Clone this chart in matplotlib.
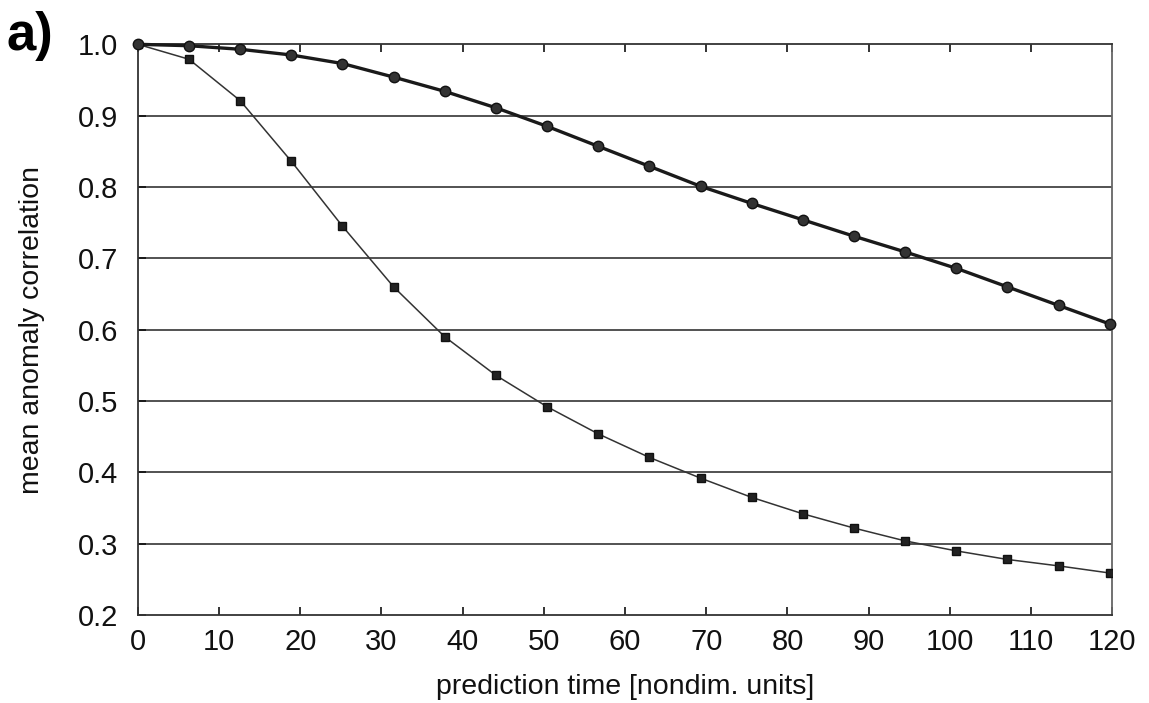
import matplotlib.pyplot as plt

plt.rcParams['font.family'] = ['Liberation Sans', 'DejaVu Sans']

# prediction time [nondim. units]
t = [0, 6.3, 12.6, 18.9, 25.2, 31.5, 37.8, 44.1, 50.4, 56.7,
     63.0, 69.3, 75.6, 81.9, 88.2, 94.5, 100.8, 107.1, 113.4, 119.7]

# upper curve (circles)
corr_circ = [1.0, 0.998, 0.993, 0.985, 0.973, 0.954, 0.934, 0.911, 0.885, 0.857,
             0.829, 0.801, 0.777, 0.754, 0.731, 0.709, 0.686, 0.660, 0.634, 0.608]

# lower curve (squares)
corr_sq = [1.0, 0.979, 0.921, 0.836, 0.745, 0.660, 0.590, 0.536, 0.492, 0.454,
           0.421, 0.392, 0.365, 0.342, 0.322, 0.304, 0.290, 0.278, 0.269, 0.259]

xticks = list(range(0, 121, 10))
yticks = [0.2, 0.3, 0.4, 0.5, 0.6, 0.7, 0.8, 0.9, 1.0]

fig = plt.figure(figsize=(11.49, 7.03), dpi=100)
ax = fig.add_axes([0.120, 0.125, 0.848, 0.812])

# horizontal grid
for yv in yticks[1:-1]:
    ax.axhline(yv, color='#444444', lw=1.3, zorder=1)

ax.plot(t, corr_sq, color='#333333', lw=1.1, marker='s', markersize=5.5,
        markerfacecolor='#222222', markeredgecolor='#111111', zorder=3)
ax.plot(t, corr_circ, color='#1a1a1a', lw=2.4, marker='o', markersize=7.5,
        markerfacecolor='#333333', markeredgecolor='#111111', zorder=4, clip_on=False)

ax.set_xlim(0, 120)
ax.set_ylim(0.2, 1.0)
ax.set_xticks(xticks)
ax.set_yticks(yticks)
ax.set_yticklabels(['%.1f' % v for v in yticks])
ax.tick_params(axis='both', direction='in', labelsize=21, length=6, width=1.2,
               colors='#111111', top=True, pad=9)
ax.tick_params(axis='y', pad=14)

for s in ax.spines.values():
    s.set_color('#333333')
    s.set_linewidth(1.3)
ax.spines['right'].set_color('#666666')

ax.set_xlabel('prediction time [nondim. units]', fontsize=20.5, color='#111111', labelpad=13)
ax.set_ylabel('mean anomaly correlation', fontsize=20.5, color='#111111', labelpad=24)

fig.text(0.006, 0.985, 'a)', fontsize=38, fontweight='bold', va='top', ha='left')

fig.savefig('out.png', dpi=100)
